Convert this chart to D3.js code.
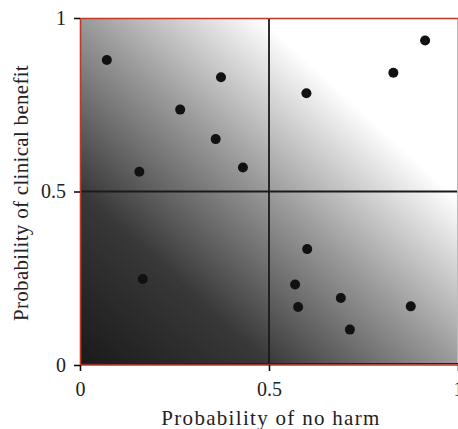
<!DOCTYPE html>
<html>
<head>
<meta charset="utf-8">
<script src="https://cdn.jsdelivr.net/npm/d3@7"></script>
<style>
  body { margin: 0; background: #fff; }
  svg { display: block; }
  text { font-family: "Liberation Serif", "Times New Roman", serif; fill: #222; }
</style>
</head>
<body>
<script>
// chart values
var noHarm = [0.071, 0.373, 0.265, 0.359, 0.431, 0.157, 0.166, 0.599, 0.829, 0.913,
              0.601, 0.569, 0.577, 0.690, 0.714, 0.875];
var benefit = [0.879, 0.829, 0.736, 0.651, 0.569, 0.557, 0.248, 0.783, 0.842, 0.935,
               0.334, 0.232, 0.167, 0.193, 0.102, 0.169];
var tickValues = [0, 0.5, 1];
var tickLabels = ["0", "0.5", "1"];

var width = 458, height = 429;
var margin = { top: 18, right: 0, bottom: 64, left: 80 };
var w = 378, h = 347;

var svg = d3.select("body").append("svg")
  .attr("width", width)
  .attr("height", height);

var defs = svg.append("defs");
var grad = defs.append("linearGradient")
  .attr("id", "bg")
  .attr("x1", 0).attr("y1", 1).attr("x2", 1).attr("y2", 0);
[[0, "#1a1a1a"], [0.25, "#383838"], [0.5, "#9a9a9a"], [0.74, "#ffffff"], [1, "#ffffff"]]
  .forEach(function(s) {
    grad.append("stop").attr("offset", s[0]).attr("stop-color", s[1]);
  });

var g = svg.append("g")
  .attr("transform", `translate(${margin.left}, ${margin.top})`);

var x = d3.scaleLinear().domain([0, 1]).range([0, w]);
var y = d3.scaleLinear().domain([0, 1]).range([h, 0]);

// shaded background
g.append("rect")
  .attr("width", w).attr("height", h)
  .attr("fill", "url(#bg)");

// quadrant lines
g.append("line")
  .attr("x1", x(0.5)).attr("x2", x(0.5))
  .attr("y1", 0).attr("y2", h)
  .attr("stroke", "#1a1a1a").attr("stroke-width", 1.8);
g.append("line")
  .attr("x1", 0).attr("x2", w)
  .attr("y1", y(0.5)).attr("y2", y(0.5))
  .attr("stroke", "#1a1a1a").attr("stroke-width", 1.8);

// right edge (light) and frame
g.append("line")
  .attr("x1", w - 0.5).attr("x2", w - 0.5).attr("y1", 0).attr("y2", h)
  .attr("stroke", "#bbb").attr("stroke-width", 1);
g.append("line")
  .attr("x1", 0).attr("x2", w).attr("y1", h - 1.5).attr("y2", h - 1.5)
  .attr("stroke", "#222").attr("stroke-width", 1.2);
g.append("path")
  .attr("d", `M${w},0.5 H0.5 V${h} H${w}`)
  .attr("fill", "none")
  .attr("stroke", "#c0392b")
  .attr("stroke-width", 1.6);

// axes
var xAxis = d3.axisBottom(x).tickValues(tickValues)
  .tickFormat(function(d, i) { return tickLabels[i]; })
  .tickSize(6).tickPadding(11);
var yAxis = d3.axisLeft(y).tickValues(tickValues)
  .tickFormat(function(d, i) { return tickLabels[i]; })
  .tickSize(6).tickPadding(8);

var xg = g.append("g").attr("transform", `translate(0, ${h})`).call(xAxis);
var yg = g.append("g").call(yAxis);
[xg, yg].forEach(function(a) {
  a.attr("font-size", 20).attr("font-family", "'Liberation Serif', serif");
  a.select(".domain").remove();
  a.selectAll(".tick line").attr("stroke", "#111").attr("stroke-width", 1.6);
  a.selectAll(".tick text").attr("fill", "#222");
});

// points
g.selectAll("circle.pt")
  .data(noHarm)
  .enter().append("circle")
  .attr("class", "pt")
  .attr("cx", function(d) { return x(d); })
  .attr("cy", function(d, i) { return y(benefit[i]); })
  .attr("r", 5)
  .attr("fill", "#111");

// axis titles
svg.append("text")
  .attr("x", margin.left + x(0.5) + 2)
  .attr("y", 425)
  .attr("text-anchor", "middle")
  .style("font-size", "21px")
  .style("letter-spacing", "1.3px")
  .text("Probability of no harm");

svg.append("text")
  .attr("transform", `translate(28, ${margin.top + 175}) rotate(-90)`)
  .attr("text-anchor", "middle")
  .style("font-size", "21px")
  .style("letter-spacing", "0.3px")
  .text("Probability of clinical benefit");
</script>
</body>
</html>
